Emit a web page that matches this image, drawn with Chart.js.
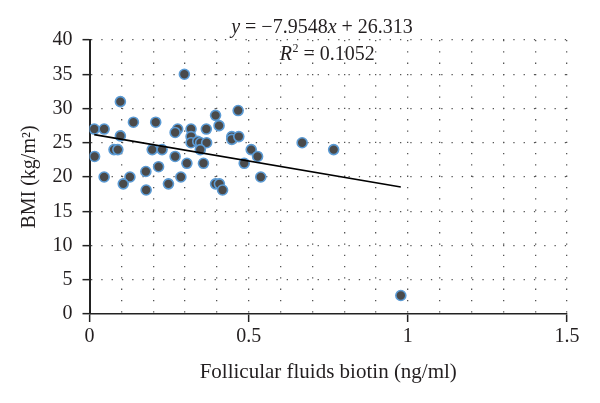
<!DOCTYPE html>
<html>
<head>
<meta charset="utf-8">
<script src="https://cdn.jsdelivr.net/npm/chart.js@4/dist/chart.umd.min.js"></script>
<style>
  html, body { margin: 0; padding: 0; background: #fff; }
  #wrap { width: 600px; height: 403px; }
</style>
</head>
<body>
<div id="wrap"><canvas id="c" width="600" height="403"></canvas></div>
<script>
// Data
const biotin = [0.298, 0.097, 0.467, 0.396, 0.138, 0.208, 0.015, 0.046, 0.407, 0.277,
                0.269, 0.319, 0.367, 0.319, 0.097, 0.447, 0.447, 0.469, 0.319, 0.340,
                0.349, 0.368, 0.016, 0.077, 0.089, 0.197, 0.228, 0.348, 0.269, 0.508,
                0.528, 0.486, 0.306, 0.358, 0.217, 0.177, 0.046, 0.127, 0.287, 0.538,
                0.106, 0.248, 0.396, 0.408, 0.178, 0.418, 0.668, 0.767, 0.978];
const bmi    = [35.0, 31.0, 29.7, 29.0, 28.0, 28.0, 27.0, 27.0, 27.5, 27.0,
                26.5, 27.0, 27.0, 25.9, 26.0, 25.9, 25.5, 25.9, 25.0, 25.2,
                25.0, 25.0, 23.0, 24.0, 24.0, 24.0, 24.0, 24.0, 23.0, 24.0,
                23.0, 22.0, 22.0, 22.0, 21.5, 20.8, 20.0, 20.0, 20.0, 20.0,
                19.0, 19.0, 19.0, 19.0, 18.1, 18.1, 25.0, 24.0, 2.7];
const trendX = [0.015, 0.978];
const trendY = [26.19, 18.53];
const xTickLabels = [0, 0.5, 1, 1.5];
const yTickLabels = [0, 5, 10, 15, 20, 25, 30, 35, 40];
const equationText = ['y', ' = \u22127.9548', 'x', ' + 26.313'];
const r2Text = ['R', '2', ' = 0.1052'];
const xTitle = 'Follicular fluids biotin (ng/ml)';
const yTitle = 'BMI (kg/m\u00B2)';

const SERIF = '"Liberation Serif", "DejaVu Serif", serif';
const TXT = '#231f20';

const scatterPts = biotin.map((x, i) => ({ x: x, y: bmi[i] }));
const trendPts = trendX.map((x, i) => ({ x: x, y: trendY[i] }));

const isMajorX = v => xTickLabels.some(t => Math.abs(t - v) < 1e-6);

const eqPlugin = {
  id: 'eq',
  afterDraw(chart) {
    const ctx = chart.ctx;
    ctx.save();
    ctx.fillStyle = TXT;
    ctx.textBaseline = 'alphabetic';
    ctx.textAlign = 'left';
    const fN = '20px ' + SERIF, fI = 'italic 20px ' + SERIF, fS = '12px ' + SERIF;
    const segs = [[equationText[0], fI], [equationText[1], fN], [equationText[2], fI], [equationText[3], fN]];
    let w = 0;
    segs.forEach(s => { ctx.font = s[1]; w += ctx.measureText(s[0]).width; });
    let x = 322 - w / 2;
    segs.forEach(s => { ctx.font = s[1]; ctx.fillText(s[0], x, 33); x += ctx.measureText(s[0]).width; });
    ctx.font = fI; const wR = ctx.measureText(r2Text[0]).width;
    ctx.font = fS; const w2 = ctx.measureText(r2Text[1]).width;
    ctx.font = fN; const wE = ctx.measureText(r2Text[2]).width;
    let x2 = 327 - (wR + w2 + wE) / 2;
    ctx.font = fI; ctx.fillText(r2Text[0], x2, 60); x2 += wR + 0.5;
    ctx.font = fS; ctx.fillText(r2Text[1], x2, 52); x2 += w2;
    ctx.font = fN; ctx.fillText(r2Text[2], x2, 60);
    ctx.restore();
  }
};

new Chart(document.getElementById('c'), {
  data: {
    datasets: [
      {
        type: 'line',
        data: trendPts,
        borderColor: '#000',
        borderWidth: 1.6,
        pointRadius: 0,
        fill: false,
        order: 0
      },
      {
        type: 'scatter',
        data: scatterPts,
        backgroundColor: '#4a4a4a',
        borderColor: '#5b9bd5',
        borderWidth: 1.6,
        pointRadius: 5,
        pointHoverRadius: 5,
        order: 1
      }
    ]
  },
  options: {
    responsive: false,
    animation: false,
    devicePixelRatio: 1,
    layout: { padding: { top: 40, right: 33, left: 0, bottom: 0 } },
    plugins: { legend: { display: false }, tooltip: { enabled: false }, title: { display: false } },
    scales: {
      x: {
        type: 'linear',
        min: 0, max: 1.5,
        ticks: {
          stepSize: 0.1,
          autoSkip: false,
          maxRotation: 0,
          padding: 3,
          color: TXT,
          font: { family: SERIF, size: 20 },
          callback: v => isMajorX(v) ? String(Math.round(v * 10) / 10) : ''
        },
        grid: {
          drawOnChartArea: true,
          color: ctx => (ctx.tick && Math.abs(ctx.tick.value) < 1e-6) ? 'rgba(0,0,0,0)' : '#555',
          lineWidth: 1.3,
          tickLength: 8,
          tickColor: ctx => (ctx.tick && isMajorX(ctx.tick.value)) ? '#222' : 'rgba(0,0,0,0)',
          tickWidth: 1.5,
          tickBorderDash: []
        },
        border: { display: true, color: '#222', width: 1.6, dash: [1.3, 10] },
        title: {
          display: true,
          text: xTitle,
          color: TXT,
          font: { family: SERIF, size: 21 },
          padding: { top: 0, bottom: 18 }
        },
        afterFit: s => { s.height = 89; }
      },
      y: {
        type: 'linear',
        min: 0, max: 40,
        ticks: {
          stepSize: 5,
          padding: 10,
          color: TXT,
          font: { family: SERIF, size: 20 },
          callback: v => yTickLabels.includes(v) ? String(v) : ''
        },
        grid: {
          color: ctx => (ctx.tick && Math.abs(ctx.tick.value) < 1e-6) ? 'rgba(0,0,0,0)' : '#555',
          lineWidth: 1.3,
          tickLength: 7,
          tickColor: '#222',
          tickWidth: 1.5,
          tickBorderDash: []
        },
        border: { display: true, color: '#222', width: 2, dash: [1.3, 9] },
        title: {
          display: true,
          text: yTitle,
          color: TXT,
          font: { family: SERIF, size: 20 },
          padding: { top: 18, bottom: 0 }
        },
        afterFit: s => { s.width = 89.5; }
      }
    }
  },
  plugins: [eqPlugin]
});
</script>
</body>
</html>
